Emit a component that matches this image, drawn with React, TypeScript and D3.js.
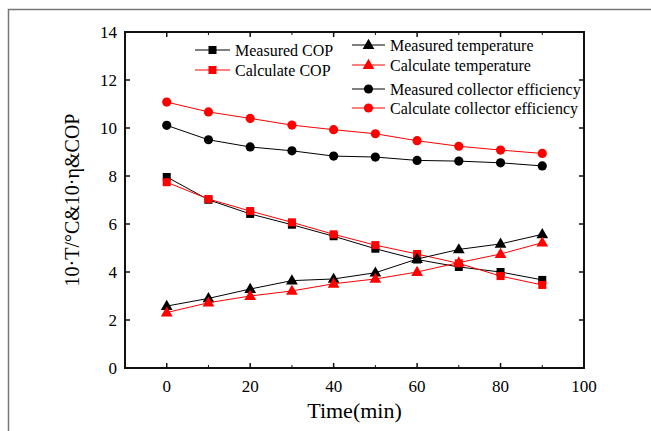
import * as d3 from 'd3';

// time axis (min)
const times = [0, 10, 20, 30, 40, 50, 60, 70, 80, 90];

// series values
const measuredCOP = [7.96, 7.01, 6.42, 5.97, 5.49, 4.97, 4.52, 4.21, 4.0, 3.67];
const calculateCOP = [7.74, 7.04, 6.54, 6.07, 5.57, 5.12, 4.75, 4.36, 3.83, 3.46];
const measuredTemp = [2.58, 2.9, 3.29, 3.64, 3.71, 3.97, 4.54, 4.94, 5.17, 5.57];
const calculateTemp = [2.31, 2.72, 3.0, 3.21, 3.51, 3.71, 4.0, 4.39, 4.75, 5.22];
const measuredEff = [10.11, 9.51, 9.21, 9.05, 8.83, 8.79, 8.65, 8.62, 8.55, 8.42];
const calculateEff = [11.08, 10.67, 10.4, 10.12, 9.93, 9.76, 9.47, 9.24, 9.08, 8.94];

const xTicks = [0, 20, 40, 60, 80, 100];
const xMinor = [-10, 10, 30, 50, 70, 90];
const yTicks = [0, 2, 4, 6, 8, 10, 12, 14];

type Shape = 'square' | 'triangle' | 'circle';

const series: { name: string; values: number[]; color: string; shape: Shape }[] = [
  { name: 'Measured COP', values: measuredCOP, color: '#000', shape: 'square' },
  { name: 'Calculate COP', values: calculateCOP, color: '#ff0000', shape: 'square' },
  { name: 'Measured temperature', values: measuredTemp, color: '#000', shape: 'triangle' },
  { name: 'Calculate temperature', values: calculateTemp, color: '#ff0000', shape: 'triangle' },
  { name: 'Measured collector efficiency', values: measuredEff, color: '#000', shape: 'circle' },
  { name: 'Calculate collector efficiency', values: calculateEff, color: '#ff0000', shape: 'circle' },
];

function Marker({ shape, x, y, color }: { shape: Shape; x: number; y: number; color: string }) {
  if (shape === 'square') return <rect x={x - 4} y={y - 4} width={8} height={8} fill={color} />;
  if (shape === 'circle') return <circle cx={x} cy={y} r={4.6} fill={color} />;
  const sym = d3.symbol(d3.symbolTriangle, 60)();
  return <path d={sym || ''} transform={`translate(${x},${y + 0.5})`} fill={color} />;
}

export default function App() {
  const width = 651;
  const height = 431;
  const margin = { left: 125, top: 32, right: 651 - 584, bottom: 431 - 368 };
  const innerW = width - margin.left - margin.right;
  const innerH = height - margin.top - margin.bottom;

  const x = d3.scaleLinear().domain([-10, 100]).range([0, innerW]);
  const y = d3.scaleLinear().domain([0, 14]).range([innerH, 0]);

  const line = d3.line<number>()
    .x((_, i) => x(times[i]))
    .y(d => y(d));

  // legend layout: two columns
  const legendPos = [
    { lx: 195 - margin.left, ly: 50 - margin.top },
    { lx: 195 - margin.left, ly: 70 - margin.top },
    { lx: 352 - margin.left, ly: 45 - margin.top },
    { lx: 352 - margin.left, ly: 65 - margin.top },
    { lx: 352 - margin.left, ly: 89 - margin.top },
    { lx: 352 - margin.left, ly: 108 - margin.top },
  ];

  return (
    <svg
      width={width}
      height={height}
      style={{
        position: 'absolute',
        left: 0,
        top: 0,
        background: '#fff',
        fontFamily: "'Liberation Serif', 'DejaVu Serif', serif",
      }}
    >
      {/* outer gray frame */}
      <path d={`M8.5,${height} V9.5 H${width}`} fill="none" stroke="#777" strokeWidth={1.5} />

      <g transform={`translate(${margin.left},${margin.top})`}>
        {/* data lines + markers */}
        {series.map(s => (
          <g key={s.name}>
            <path d={line(s.values) || ''} fill="none" stroke={s.color} strokeWidth={1} />
            {s.values.map((v, i) => (
              <Marker key={i} shape={s.shape} x={x(times[i])} y={y(v)} color={s.color} />
            ))}
          </g>
        ))}

        {/* frame */}
        <rect x={0} y={0} width={innerW} height={innerH} fill="none" stroke="#111" strokeWidth={2} />

        {/* x ticks bottom + top */}
        {xTicks.map(t => (
          <g key={'xt' + t}>
            <line x1={x(t)} x2={x(t)} y1={innerH} y2={innerH - 5} stroke="#111" strokeWidth={1.5} />
            <line x1={x(t)} x2={x(t)} y1={0} y2={5} stroke="#111" strokeWidth={1.5} />
            <text x={x(t)} y={innerH + 24} textAnchor="middle" fontSize={17}>{t}</text>
          </g>
        ))}
        {xMinor.map(t => (
          <g key={'xm' + t}>
            <line x1={x(t)} x2={x(t)} y1={innerH} y2={innerH - 3} stroke="#111" strokeWidth={1} />
            <line x1={x(t)} x2={x(t)} y1={0} y2={3} stroke="#111" strokeWidth={1} />
          </g>
        ))}

        {/* y ticks left + right */}
        {yTicks.map(t => (
          <g key={'yt' + t}>
            <line x1={0} x2={5} y1={y(t)} y2={y(t)} stroke="#111" strokeWidth={1.5} />
            <line x1={innerW} x2={innerW - 5} y1={y(t)} y2={y(t)} stroke="#111" strokeWidth={1.5} />
            <text x={-8} y={y(t) + 6} textAnchor="end" fontSize={17}>{t}</text>
          </g>
        ))}

        {/* axis titles */}
        <text x={innerW / 2} y={innerH + 50} textAnchor="middle" fontSize={22}>Time(min)</text>
        <text
          transform={`translate(${-46}, ${innerH / 2}) rotate(-90)`}
          textAnchor="middle"
          fontSize={20}
        >
          10·T/°C&amp;10·η&amp;COP
        </text>

        {/* legend */}
        {series.map((s, i) => {
          const { lx, ly } = legendPos[i];
          const w = i < 2 ? 35 : 33;
          return (
            <g key={'lg' + s.name} transform={`translate(${lx},${ly})`}>
              <line x1={0} x2={w} y1={0} y2={0} stroke={s.color} strokeWidth={1} />
              <Marker shape={s.shape} x={w / 2} y={0} color={s.color} />
              <text x={w + 5} y={5.5} fontSize={16}>{s.name}</text>
            </g>
          );
        })}
      </g>
    </svg>
  );
}
